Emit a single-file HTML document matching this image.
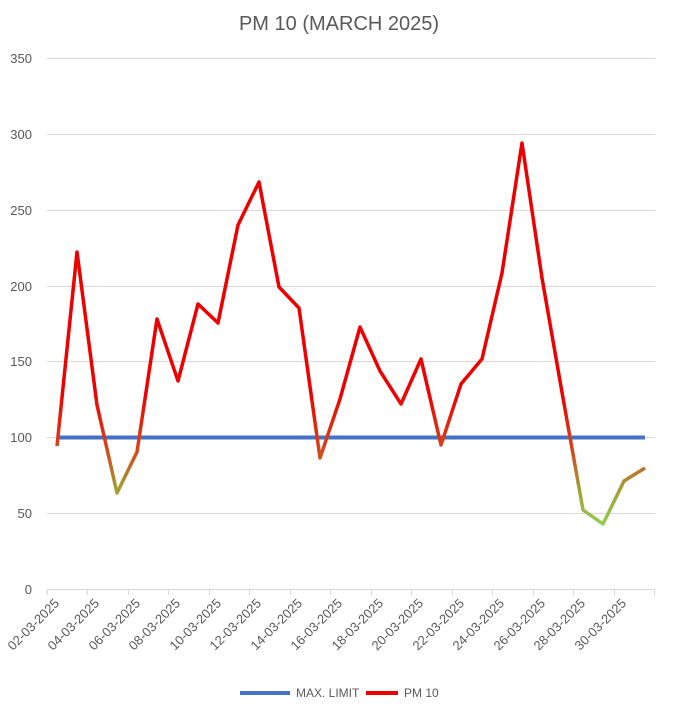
<!DOCTYPE html>
<html><head><meta charset="utf-8"><style>
body{margin:0;background:#fff}
svg{display:block;font-family:"Liberation Sans",sans-serif}
</style></head><body>
<svg width="678" height="714" viewBox="0 0 678 714">
<defs>
<linearGradient id="g" gradientUnits="userSpaceOnUse" x1="0" y1="392" x2="0" y2="526">
<stop offset="0" stop-color="#ee0000"/>
<stop offset="0.45" stop-color="#d24a1e"/>
<stop offset="0.7" stop-color="#a49a34"/>
<stop offset="1" stop-color="#92d050"/>
</linearGradient>
</defs>
<text x="339" y="30" text-anchor="middle" font-size="20" fill="#595959">PM 10 (MARCH 2025)</text>
<g stroke="#d9d9d9" stroke-width="1">
<line x1="47" x2="655" y1="58.5" y2="58.5"/>
<line x1="47" x2="655" y1="134.5" y2="134.5"/>
<line x1="47" x2="655" y1="210.5" y2="210.5"/>
<line x1="47" x2="655" y1="286.5" y2="286.5"/>
<line x1="47" x2="655" y1="361.5" y2="361.5"/>
<line x1="47" x2="655" y1="437.5" y2="437.5"/>
<line x1="47" x2="655" y1="513.5" y2="513.5"/>
<line x1="47" x2="655" y1="589.5" y2="589.5"/>
<path d="M47.5 589v6M87.5 589v6M128.5 589v6M168.5 589v6M209.5 589v6M249.5 589v6M290.5 589v6M330.5 589v6M371.5 589v6M411.5 589v6M452.5 589v6M492.5 589v6M533.5 589v6M573.5 589v6M614.5 589v6M654.5 589v6"/>
</g>
<g font-size="13" fill="#595959" text-anchor="end">
<text x="32" y="63">350</text><text x="32" y="139">300</text><text x="32" y="215">250</text>
<text x="32" y="291">200</text><text x="32" y="366">150</text><text x="32" y="442">100</text>
<text x="32" y="518">50</text><text x="32" y="594">0</text>
</g>
<g font-size="13" fill="#595959" text-anchor="end">
<text transform="translate(60,604) rotate(-45)">02-03-2025</text>
<text transform="translate(100,604) rotate(-45)">04-03-2025</text>
<text transform="translate(141,604) rotate(-45)">06-03-2025</text>
<text transform="translate(181,604) rotate(-45)">08-03-2025</text>
<text transform="translate(222,604) rotate(-45)">10-03-2025</text>
<text transform="translate(262,604) rotate(-45)">12-03-2025</text>
<text transform="translate(303,604) rotate(-45)">14-03-2025</text>
<text transform="translate(343,604) rotate(-45)">16-03-2025</text>
<text transform="translate(384,604) rotate(-45)">18-03-2025</text>
<text transform="translate(424,604) rotate(-45)">20-03-2025</text>
<text transform="translate(465,604) rotate(-45)">22-03-2025</text>
<text transform="translate(505,604) rotate(-45)">24-03-2025</text>
<text transform="translate(546,604) rotate(-45)">26-03-2025</text>
<text transform="translate(586,604) rotate(-45)">28-03-2025</text>
<text transform="translate(627,604) rotate(-45)">30-03-2025</text>
</g>
<line x1="57" x2="645" y1="437.5" y2="437.5" stroke="#4472c4" stroke-width="4"/>
<polyline fill="none" stroke="url(#g)" stroke-width="3.5" stroke-linejoin="round" points="57,446 77,252 97,405 117,493 137,452 157,319 178,381 198,304 218,323 238,225 259,182 279,287 299,308 320,458 340,399 360,327 380,371 401,404 421,359 441,445 461,384 482,359 502,273 522,143 542,278 563,398 583,510 603,524 624,481 645,468"/>
<line x1="240" x2="290" y1="693" y2="693" stroke="#4472c4" stroke-width="4"/>
<text x="296" y="697" font-size="12" fill="#595959">MAX. LIMIT</text>
<line x1="366" x2="398" y1="693" y2="693" stroke="#ee0000" stroke-width="4"/>
<text x="404" y="697" font-size="12" fill="#595959">PM 10</text>
</svg>
</body></html>
